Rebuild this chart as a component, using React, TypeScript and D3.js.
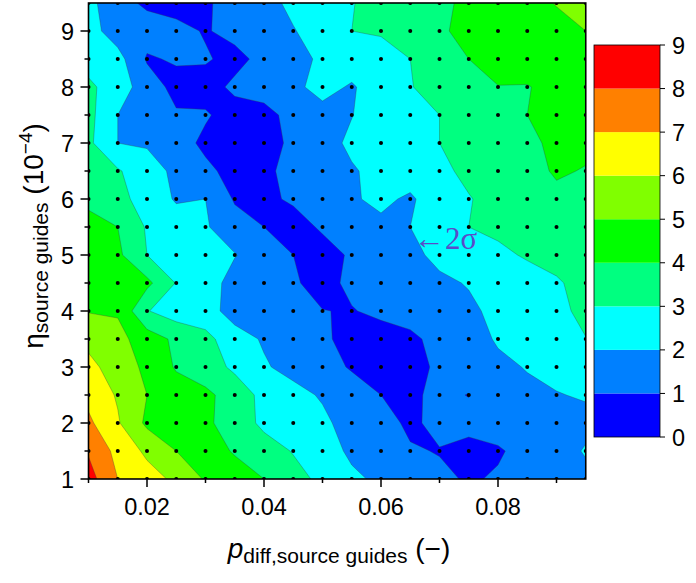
import React from "react";
import * as d3 from "d3";

// Grid of p_diff values (x) and eta values (y, listed top row first)
const xValues = [0.01, 0.015, 0.02, 0.025, 0.03, 0.035, 0.04, 0.045, 0.05, 0.055, 0.06, 0.065, 0.07, 0.075, 0.08, 0.085, 0.09, 0.095];
const yValues = [9.5, 9.0, 8.5, 8.0, 7.5, 7.0, 6.5, 6.0, 5.5, 5.0, 4.5, 4.0, 3.5, 3.0, 2.5, 2.0, 1.5, 1.0];

// Deviation in sigma at each grid node, one row per eta value (top to bottom)
const sigmaGrid = [
  [2.3, 1.3, 0.85, 0.6, 0.9, 1.3, 1.7, 2.2, 2.6, 2.95, 3.4, 3.6, 3.8, 4.2, 4.5, 4.8, 5.03, 5.6],
  [2.4, 1.5, 1.4, 1.3, 0.92, 1.3, 1.6, 1.95, 2.4, 3.0, 3.1, 3.5, 3.9, 4.2, 4.5, 4.6, 4.8, 5.0],
  [2.6, 2.35, 0.9, 1.1, 1.1, 0.7, 1.3, 1.6, 2.2, 2.5, 2.6, 3.0, 3.5, 4.0, 4.3, 4.5, 4.6, 4.7],
  [3.2, 2.5, 1.5, 0.7, 0.6, 1.2, 1.4, 1.8, 2.3, 1.9, 2.5, 2.95, 3.4, 3.8, 3.98, 3.95, 4.3, 4.4],
  [3.3, 2.0, 1.5, 1.1, 1.1, 0.6, 0.7, 1.3, 1.7, 1.97, 2.5, 2.7, 3.0, 3.5, 3.8, 4.0, 4.3, 4.4],
  [3.2, 2.0, 1.9, 1.4, 0.8, 0.5, 0.6, 1.2, 1.6, 2.2, 2.5, 2.6, 3.0, 3.4, 3.6, 3.8, 4.2, 4.2],
  [3.4, 3.1, 2.4, 1.8, 1.2, 0.7, 0.8, 1.3, 1.5, 1.9, 2.3, 2.5, 2.8, 3.2, 3.5, 3.7, 4.1, 3.95],
  [3.8, 3.3, 2.6, 1.9, 2.0, 0.9, 0.85, 1.1, 1.4, 1.9, 2.2, 1.85, 2.6, 2.95, 3.3, 3.5, 3.8, 3.98],
  [4.3, 4.0, 2.9, 2.5, 2.1, 1.4, 1.0, 0.7, 1.1, 1.5, 1.8, 2.0, 2.3, 3.0, 3.2, 3.4, 3.5, 3.6],
  [4.4, 4.2, 3.0, 2.6, 2.3, 2.05, 1.5, 1.0, 0.7, 1.1, 1.5, 1.8, 2.2, 2.6, 2.8, 3.1, 3.3, 3.4],
  [4.6, 4.4, 4.25, 2.95, 2.5, 1.6, 1.3, 1.1, 0.7, 1.2, 1.5, 1.7, 1.85, 2.05, 2.4, 2.6, 2.9, 3.3],
  [4.95, 4.9, 3.05, 2.5, 2.4, 1.6, 1.4, 1.2, 1.02, 0.95, 1.2, 1.4, 1.6, 1.85, 2.2, 2.5, 2.8, 3.2],
  [5.7, 5.3, 4.5, 3.8, 3.3, 2.4, 1.9, 1.6, 1.2, 0.6, 0.6, 0.8, 1.3, 1.6, 2.1, 2.4, 2.5, 2.98],
  [6.3, 5.5, 4.8, 3.9, 3.5, 2.8, 2.1, 1.7, 1.4, 0.9, 0.5, 0.6, 1.2, 1.5, 1.8, 2.05, 2.3, 2.4],
  [6.7, 5.9, 5.0, 4.5, 4.2, 3.6, 2.7, 2.3, 1.9, 1.5, 1.0, 0.85, 1.2, 0.97, 1.5, 1.8, 1.95, 2.1],
  [7.2, 6.1, 4.8, 4.5, 4.2, 3.5, 2.8, 2.5, 2.2, 1.6, 1.4, 0.8, 1.3, 1.3, 1.4, 1.6, 1.7, 1.7],
  [7.9, 6.7, 5.8, 5.0, 4.5, 3.9, 3.4, 2.95, 2.5, 1.8, 1.5, 1.1, 0.95, 0.7, 0.9, 1.3, 1.5, 2.1],
  [8.4, 7.0, 6.4, 5.8, 4.9, 4.5, 4.0, 3.3, 2.8, 2.2, 1.8, 1.5, 1.2, 0.9, 1.1, 1.4, 1.6, 1.7],
];

// Contour levels and their fill colours
const levels = [0, 1, 2, 3, 4, 5, 6, 7, 8];
const levelColors = ["#0000ff", "#0080ff", "#00ffff", "#00ff80", "#00ff00", "#80ff00", "#ffff00", "#ff8000", "#ff0000"];
const colorbarTicks = [0, 1, 2, 3, 4, 5, 6, 7, 8, 9];

// Axis ticks
const xMajorTicks = [0.02, 0.04, 0.06, 0.08];
const xMinorTicks = [0.01, 0.03, 0.05, 0.07, 0.09];
const yMajorTicks = [1, 2, 3, 4, 5, 6, 7, 8, 9];
const yMinorTicks = [1.5, 2.5, 3.5, 4.5, 5.5, 6.5, 7.5, 8.5];

const W = 696;
const H = 583;
const plot = { left: 88.5, right: 585.75, top: 3, bottom: 479 };
const bar = { left: 594, right: 660, top: 45, bottom: 437 };
const sans = "'Liberation Sans', Arial, sans-serif";

export default function App() {
  const x = d3.scaleLinear().domain([0.01, 0.095]).range([plot.left, plot.right]);
  const y = d3.scaleLinear().domain([1, 9.5]).range([plot.bottom, plot.top]);
  const cy = d3.scaleLinear().domain([0, 9]).range([bar.bottom, bar.top]);

  const nx = xValues.length;
  const ny = yValues.length;
  const stepX = xValues[1] - xValues[0];
  const stepY = yValues[0] - yValues[1];

  const contours = d3.contours().size([nx, ny]).thresholds(levels)(sigmaGrid.flat());

  // grid coordinates (node centres at i + 0.5) to data, then to pixels
  const projection = d3.geoTransform({
    point(px: number, py: number) {
      (this as any).stream.point(
        x(xValues[0] + (px - 0.5) * stepX),
        y(yValues[0] - (py - 0.5) * stepY)
      );
    },
  });
  const path = d3.geoPath(projection);

  return (
    <svg
      width={W}
      height={H}
      style={{ position: "absolute", left: 0, top: 0, background: "#fff" }}
      fontFamily={sans}
    >
      <defs>
        <clipPath id="plot-clip">
          <rect x={plot.left} y={plot.top} width={plot.right - plot.left} height={plot.bottom - plot.top} />
        </clipPath>
      </defs>

      <g clipPath="url(#plot-clip)">
        {contours.map((c, k) => (
          <path
            key={k}
            d={path(c as any) || ""}
            fill={levelColors[k]}
            stroke="#3a3a3a"
            strokeOpacity={0.55}
            strokeWidth={0.6}
          />
        ))}
        {yValues.map((yv) =>
          xValues.map((xv) => (
            <circle key={`${xv}-${yv}`} cx={x(xv)} cy={y(yv)} r={2} fill="#000" />
          ))
        )}
      </g>

      {/* frame */}
      <rect
        x={plot.left}
        y={plot.top}
        width={plot.right - plot.left}
        height={plot.bottom - plot.top}
        fill="none"
        stroke="#000"
        strokeWidth={1.6}
      />

      {/* x axis */}
      {xMajorTicks.map((t) => (
        <g key={`xm${t}`}>
          <line x1={x(t)} x2={x(t)} y1={plot.bottom} y2={plot.bottom + 8} stroke="#000" strokeWidth={1.5} />
          <text x={x(t)} y={515} textAnchor="middle" fontSize={23.5} fill="#000">
            {t.toFixed(2)}
          </text>
        </g>
      ))}
      {xMinorTicks.map((t) => (
        <line key={`xn${t}`} x1={x(t)} x2={x(t)} y1={plot.bottom} y2={plot.bottom + 4} stroke="#000" strokeWidth={1.5} />
      ))}

      {/* y axis */}
      {yMajorTicks.map((t) => (
        <g key={`ym${t}`}>
          <line x1={plot.left - 8} x2={plot.left} y1={y(t)} y2={y(t)} stroke="#000" strokeWidth={1.5} />
          <text x={74} y={y(t) + 8.5} textAnchor="end" fontSize={23.5} fill="#000">
            {t}
          </text>
        </g>
      ))}
      {yMinorTicks.map((t) => (
        <line key={`yn${t}`} x1={plot.left - 4} x2={plot.left} y1={y(t)} y2={y(t)} stroke="#000" strokeWidth={1.5} />
      ))}

      {/* axis titles */}
      <text x={339} y={558} textAnchor="middle" fontSize={28} fill="#000">
        <tspan fontStyle="italic">p</tspan>
        <tspan fontSize={21} dy={5}>diff,source guides</tspan>
        <tspan dy={-5}> (−)</tspan>
      </text>
      <text transform="translate(43,236) rotate(-90)" textAnchor="middle" fontSize={28} fill="#000">
        <tspan>η</tspan>
        <tspan fontSize={21} dy={5}>source guides</tspan>
        <tspan dy={-5}> (10</tspan>
        <tspan fontSize={19} dy={-11}>−4</tspan>
        <tspan dy={11}>)</tspan>
      </text>

      {/* significance marker */}
      <text x={414} y={249} fontSize={31} fill="#5a4cc8" fontFamily="'Liberation Serif', 'DejaVu Serif', serif">
        ←2σ
      </text>

      {/* colour bar */}
      {levels.map((l, k) => (
        <rect
          key={`cb${l}`}
          x={bar.left}
          y={cy(l + 1)}
          width={bar.right - bar.left}
          height={cy(l) - cy(l + 1)}
          fill={levelColors[k]}
        />
      ))}
      <rect
        x={bar.left}
        y={bar.top}
        width={bar.right - bar.left}
        height={bar.bottom - bar.top}
        fill="none"
        stroke="#000"
        strokeWidth={0.8}
      />
      {colorbarTicks.map((t) => (
        <g key={`cbt${t}`}>
          <line x1={bar.right} x2={bar.right + 5} y1={cy(t)} y2={cy(t)} stroke="#000" strokeWidth={1} />
          <text x={672} y={cy(t) + 8.5} fontSize={23.5} fill="#000">
            {t}
          </text>
        </g>
      ))}
    </svg>
  );
}
